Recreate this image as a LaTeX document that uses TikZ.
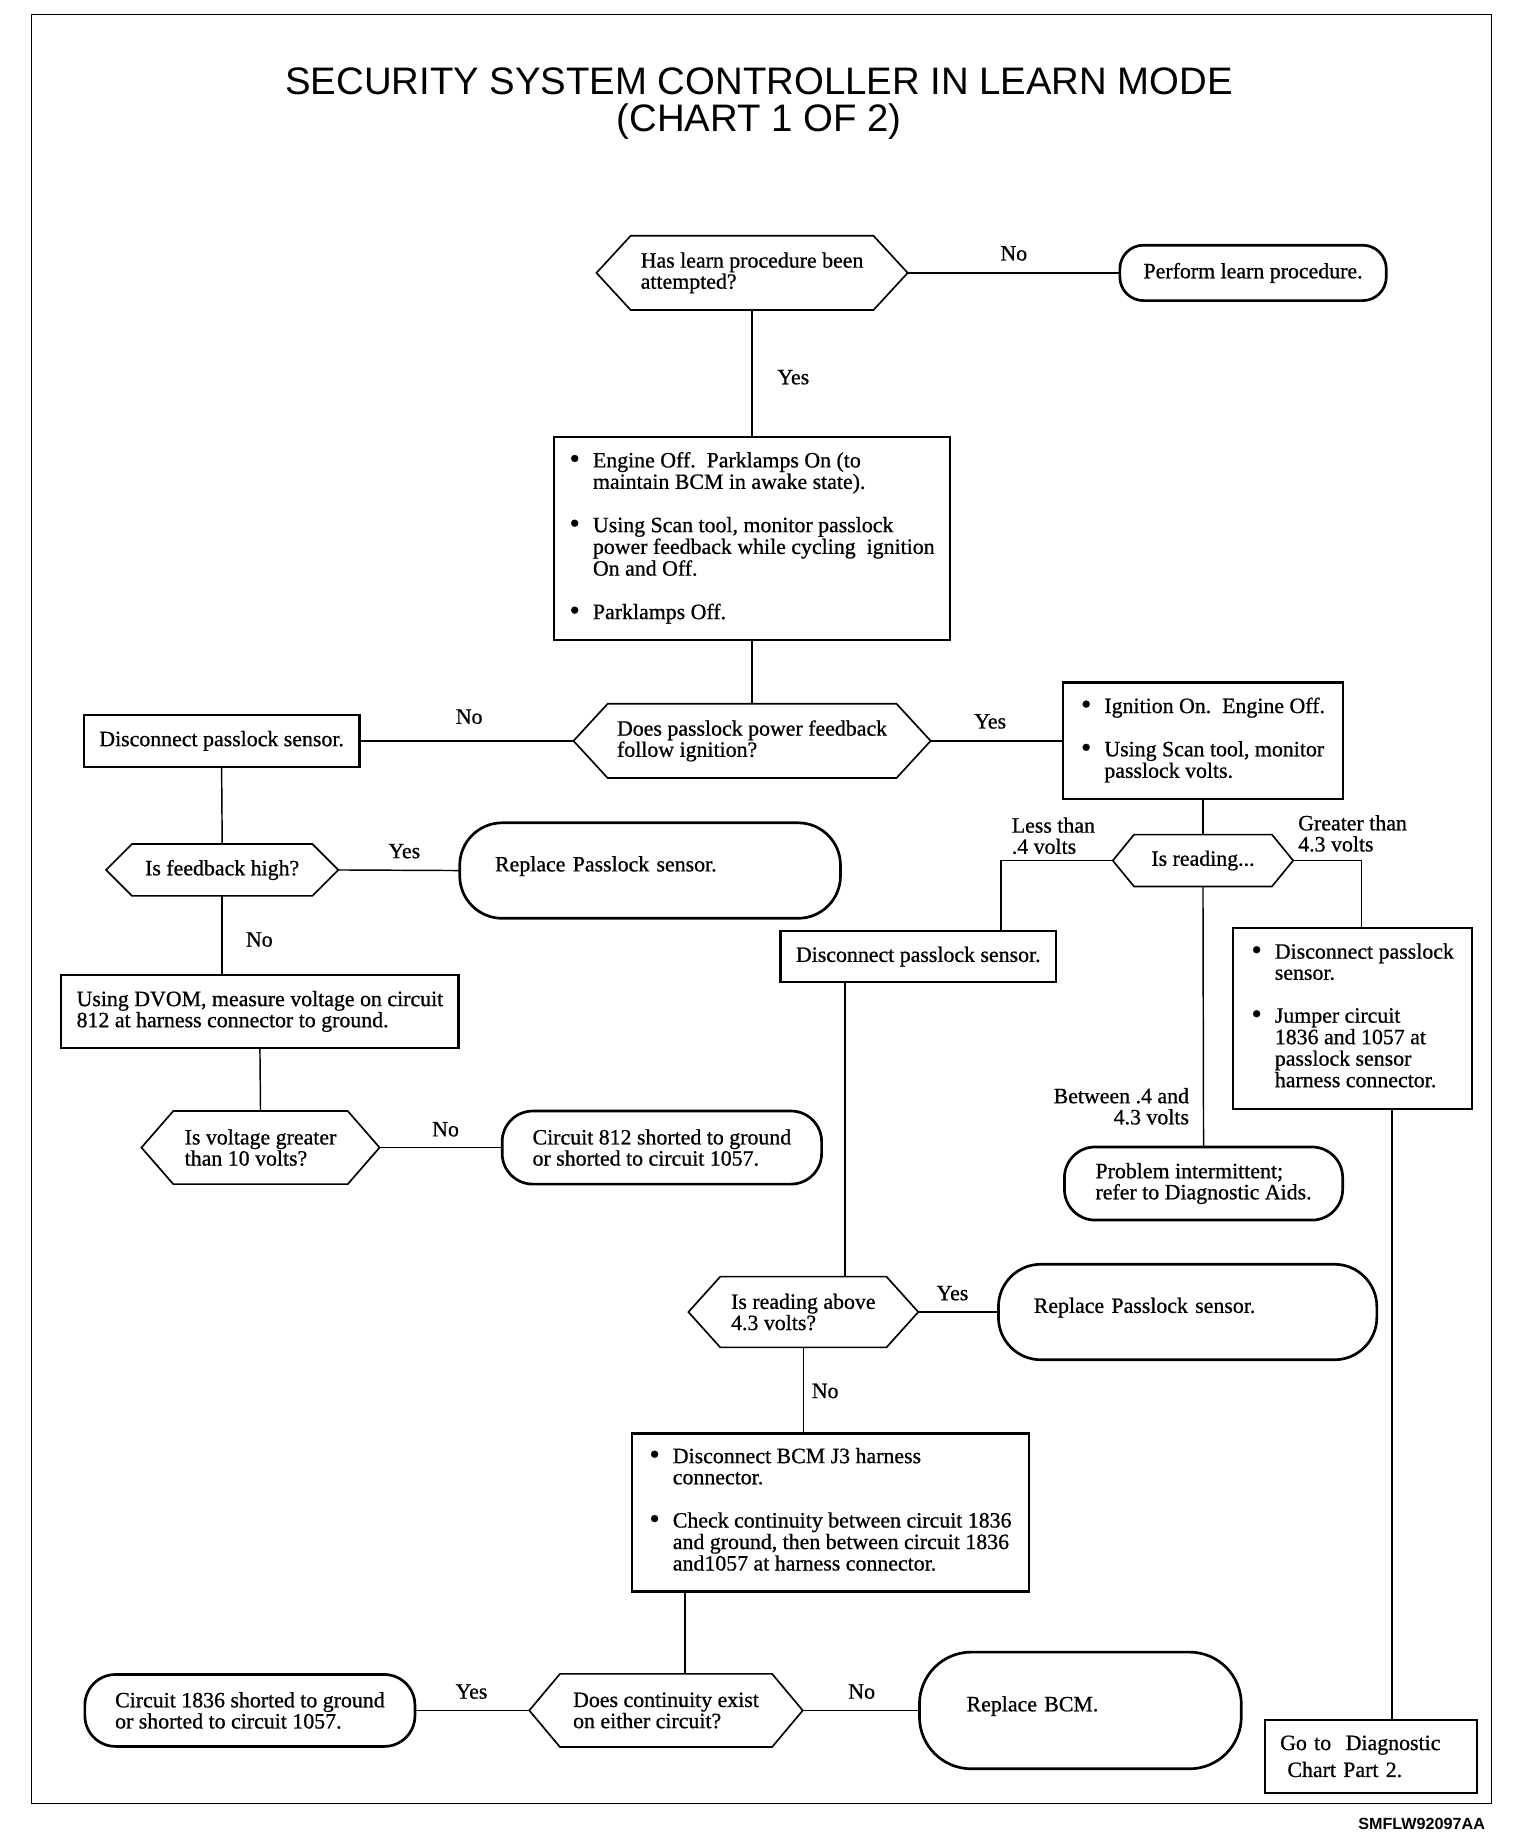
\documentclass[tikz,border=0pt]{standalone}
\usepackage{fontspec}
\setmainfont{Liberation Serif}[FakeBold=0.8]
\newfontfamily\headfont{Liberation Sans}

\tikzset{
	line/.style={line width=0.7pt},
	stepbox/.style={draw, line width=1.1pt, inner sep=0pt, outer sep=0pt},
	term/.style={draw, line width=1.3pt, inner sep=0pt, outer sep=0pt, rounded corners=#1},
	query/.style={inner sep=0pt, outer sep=0pt},
	hexline/.style={line width=0.8pt, line join=miter},
	answer/.style={inner sep=0pt}
}
\newcommand{\dotmark}{\raisebox{-0.4pt}{\scalebox{1.35}{\textbullet}}}

\begin{document}
\begin{tikzpicture}[x=0.2mm, y=-0.2mm, font=\fontsize{10.55}{10.2}\selectfont]
	\useasboundingbox (0,0) rectangle (1303,1566);
	\draw[line width=0.6pt] (27,12) rectangle (1265,1530);
	
	\node[align=center, font=\headfont\fontsize{18.5}{18.1}\selectfont] (title) at (644,88) {SECURITY SYSTEM CONTROLLER IN LEARN MODE\\(CHART 1 OF 2)};
	
	% top of the chart
	\node[query, minimum width=52.8mm, minimum height=12.6mm, align=left] (attempted) at (638,231.5) {Has learn procedure been\\attempted?};
	\node[term=4mm, minimum width=45.2mm, minimum height=9.4mm] (learn) at (1063,231.5) {Perform learn procedure.};
	\node[stepbox, minimum width=67.2mm, minimum height=34.4mm] (check1) at (638,457) {\begin{tabular}{@{}p{11.3pt}@{}l@{}}
		\dotmark & Engine Off.\ \ Parklamps On (to\\
		& maintain BCM in awake state).\\[10.5pt]
		\dotmark & Using Scan tool, monitor passlock\\
		& power feedback while cycling\ \ ignition\\
		& On and Off.\\[10.5pt]
		\dotmark & Parklamps Off.
	\end{tabular}};
	\node[query, minimum width=60.6mm, minimum height=12.6mm, align=left] (follows) at (638,628.5) {Does passlock power feedback\\follow ignition?};
	\node[stepbox, minimum width=46.8mm, minimum height=8.8mm] (unplug1) at (188,628.5) {Disconnect passlock sensor.};
	\node[stepbox, minimum width=47.4mm, minimum height=19.8mm] (check2) at (1020.5,628.5) {\begin{tabular}{@{}p{11.3pt}@{}l@{}}
		\dotmark & Ignition On.\ \ Engine Off.\\[10.5pt]
		\dotmark & Using Scan tool, monitor\\
		& passlock volts.
	\end{tabular}};
	
	% right branch
	\node[query, minimum width=30.6mm, minimum height=8.8mm] (reading) at (1020.5,730) {Is reading...};
	\node[stepbox, minimum width=46.8mm, minimum height=8.6mm] (unplug2) at (779,811.5) {Disconnect passlock sensor.};
	\node[stepbox, minimum width=40.6mm, minimum height=30.8mm] (jumper) at (1147.5,864) {\begin{tabular}{@{}p{11.3pt}@{}l@{}}
		\dotmark & Disconnect passlock\\
		& sensor.\\[10.5pt]
		\dotmark & Jumper circuit\\
		& 1836 and 1057 at\\
		& passlock sensor\\
		& harness connector.
	\end{tabular}};
	\node[term=5.2mm, minimum width=47.2mm, minimum height=12.4mm, align=left] (interm) at (1021,1004) {Problem intermittent;\\refer to Diagnostic Aids.};
	\node[stepbox, minimum width=36mm, minimum height=12.4mm, text width=30.8mm, align=left, font=\fontsize{10.55}{13}\selectfont] (part2) at (1163,1490) {Go to\ \ Diagnostic\\\ Chart Part 2.};
	
	% left branch
	\node[query, minimum width=39.4mm, minimum height=8.8mm] (fbhigh) at (188.5,738) {Is feedback high?};
	\node[term=7.2mm, minimum width=64.6mm, minimum height=16.2mm, text width=52.6mm, align=left, text depth=6.5pt] (replace1) at (551.5,738.5) {Replace Passlock sensor.};
	\node[stepbox, minimum width=67.4mm, minimum height=12.4mm, align=left] (dvom) at (220.5,858) {Using DVOM, measure voltage on circuit\\812 at harness connector to ground.};
	\node[query, minimum width=40.4mm, minimum height=12.4mm, align=left] (voltage) at (221,973.5) {Is voltage greater\\than 10 volts?};
	\node[term=5.2mm, minimum width=54.2mm, minimum height=12.4mm, align=left] (short812) at (561.5,973.5) {Circuit 812 shorted to ground\\or shorted to circuit 1057.};
	
	% bottom of the chart
	\node[query, minimum width=39mm, minimum height=12mm, align=left] (above) at (681.5,1113) {Is reading above\\4.3 volts?};
	\node[term=7.2mm, minimum width=64.2mm, minimum height=16.2mm, text width=52.2mm, align=left, text depth=6.5pt] (replace2) at (1007.5,1113) {Replace Passlock sensor.};
	\node[stepbox, minimum width=67.4mm, minimum height=26.8mm] (check3) at (704.5,1283) {\begin{tabular}{@{}p{11.3pt}@{}l@{}}
		\dotmark & Disconnect BCM J3 harness\\
		& connector.\\[10.5pt]
		\dotmark & Check continuity between circuit 1836\\
		& and ground, then between circuit 1836\\
		& and1057 at harness connector.
	\end{tabular}};
	\node[query, minimum width=46.4mm, minimum height=12.4mm, align=left] (continuity) at (565,1451) {Does continuity exist\\on either circuit?};
	\node[term=5.2mm, minimum width=56mm, minimum height=12.2mm, align=left] (short1836) at (212,1451) {Circuit 1836 shorted to ground\\or shorted to circuit 1057.};
	\node[term=8.8mm, minimum width=54.6mm, minimum height=19.8mm, text width=38.6mm, align=left, text depth=6.5pt] (newbcm) at (916.5,1451) {Replace BCM.};
	
	% decision outlines
	\draw[hexline] ([xshift=5.8mm]attempted.north west) -- ([xshift=-5.8mm]attempted.north east) -- (attempted.east) -- ([xshift=-5.8mm]attempted.south east) -- ([xshift=5.8mm]attempted.south west) -- (attempted.west) -- cycle;
	\draw[hexline] ([xshift=5.8mm]follows.north west) -- ([xshift=-5.8mm]follows.north east) -- (follows.east) -- ([xshift=-5.8mm]follows.south east) -- ([xshift=5.8mm]follows.south west) -- (follows.west) -- cycle;
	\draw[hexline] ([xshift=3.6mm]reading.north west) -- ([xshift=-3.6mm]reading.north east) -- (reading.east) -- ([xshift=-3.6mm]reading.south east) -- ([xshift=3.6mm]reading.south west) -- (reading.west) -- cycle;
	\draw[hexline] ([xshift=4.4mm]fbhigh.north west) -- ([xshift=-4.4mm]fbhigh.north east) -- (fbhigh.east) -- ([xshift=-4.4mm]fbhigh.south east) -- ([xshift=4.4mm]fbhigh.south west) -- (fbhigh.west) -- cycle;
	\draw[hexline] ([xshift=5.4mm]voltage.north west) -- ([xshift=-5.4mm]voltage.north east) -- (voltage.east) -- ([xshift=-5.4mm]voltage.south east) -- ([xshift=5.4mm]voltage.south west) -- (voltage.west) -- cycle;
	\draw[hexline] ([xshift=5.4mm]above.north west) -- ([xshift=-5.4mm]above.north east) -- (above.east) -- ([xshift=-5.4mm]above.south east) -- ([xshift=5.4mm]above.south west) -- (above.west) -- cycle;
	\draw[hexline] ([xshift=5.2mm]continuity.north west) -- ([xshift=-5.2mm]continuity.north east) -- (continuity.east) -- ([xshift=-5.2mm]continuity.south east) -- ([xshift=5.2mm]continuity.south west) -- (continuity.west) -- cycle;
	
	% connectors
	\draw[line] (attempted.east) -- (learn.west);
	\draw[line] (attempted.south) -- (check1.north);
	\draw[line] (check1.south) -- (follows.north);
	\draw[line] (follows.west) -- (unplug1.east);
	\draw[line] (follows.east) -- (check2.west);
	\draw[line] (check2.south) -- (reading.north);
	\draw[line] (reading.west) -| ([xshift=14mm]unplug2.north);
	\draw[line] (reading.east) -| ([xshift=1.5mm]jumper.north);
	\draw[line] (reading.south) -- (interm.north);
	\draw[line] ([xshift=6.7mm]jumper.south) -- ([xshift=6.7mm]jumper.south |- part2.north);
	\draw[line] (unplug1.south) -- (fbhigh.north);
	\draw[line] (fbhigh.east) -- (replace1.west);
	\draw[line] (fbhigh.south) -- (fbhigh.south |- dvom.north);
	\draw[line] (dvom.south) -- (voltage.north);
	\draw[line] (voltage.east) -- (short812.west);
	\draw[line] ([xshift=-12.4mm]unplug2.south) -- ([xshift=-12.4mm]unplug2.south |- above.north);
	\draw[line] (above.east) -- (replace2.west);
	\draw[line] (above.south) -- (above.south |- check3.north);
	\draw[line] ([xshift=-24.7mm]check3.south) -- ([xshift=-24.7mm]check3.south |- continuity.north);
	\draw[line] (continuity.west) -- (short1836.east);
	\draw[line] (continuity.east) -- (newbcm.west);
	
	% answers
	\node[answer] (no1) at (860,215) {No};
	\node[answer] (yes1) at (673,320) {Yes};
	\node[answer] (no2) at (398,608) {No};
	\node[answer] (yes2) at (840,612) {Yes};
	\node[answer, anchor=west, align=left] (less) at (858,709) {Less than\\.4 volts};
	\node[answer, anchor=west, align=left] (greater) at (1101,707) {Greater than\\4.3 volts};
	\node[answer, anchor=east, align=right] (between) at (1009,938.5) {Between .4 and\\4.3 volts};
	\node[answer] (yes3) at (343,722) {Yes};
	\node[answer] (no3) at (220,797) {No};
	\node[answer] (no4) at (378,958) {No};
	\node[answer] (yes4) at (808,1097) {Yes};
	\node[answer] (no5) at (700,1180) {No};
	\node[answer] (yes5) at (400,1435) {Yes};
	\node[answer] (no6) at (731,1435) {No};
	
	\node[font=\headfont\bfseries\fontsize{7.8}{9}\selectfont] (code) at (1206,1547) {SMFLW92097AA};
\end{tikzpicture}
\end{document}
